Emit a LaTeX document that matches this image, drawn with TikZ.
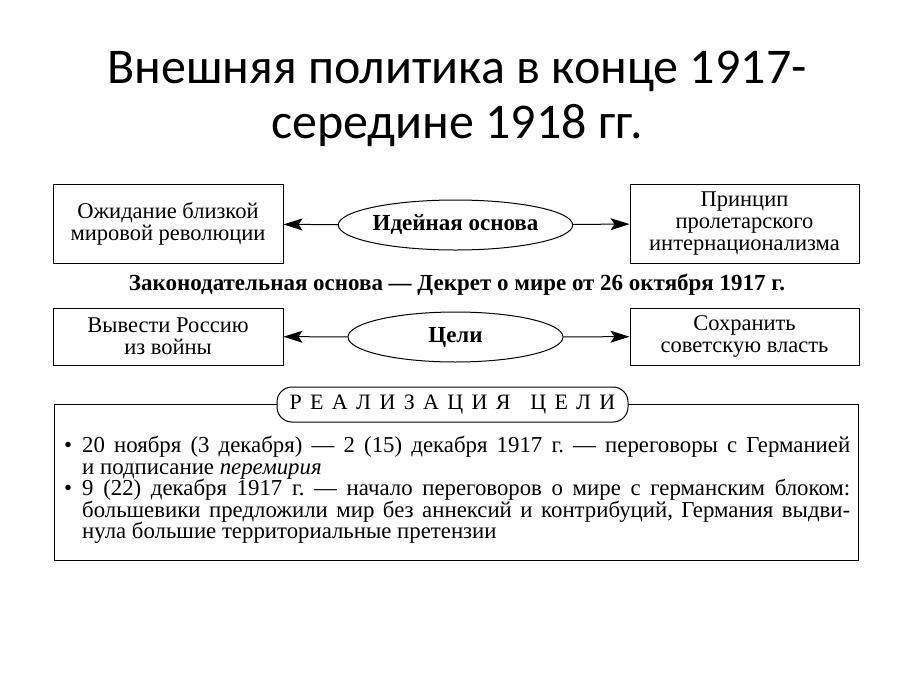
\documentclass[tikz,border=0pt]{standalone}
\usepackage{fontspec}
\setmainfont{Liberation Serif}
\newfontfamily\titlefont{Carlito}
\usetikzlibrary{positioning,shapes.geometric,arrows.meta}
\newcommand{\dotmark}{\llap{•\hspace{10pt}}}
\tikzset{
  box/.style={
    draw, line width=1pt, minimum width=230pt, align=center,
    inner sep=2pt, font=\fontsize{22.5}{22}\selectfont
  },
  oval/.style={
    draw, ellipse, line width=1pt, minimum width=215pt,
    minimum height=50pt, inner sep=0pt,
    font=\bfseries\fontsize{23}{22}\selectfont
  },
  link/.style={
    line width=1pt, -{Stealth[length=19pt,width=12pt,inset=4pt]}
  }
}

\begin{document}
\begin{tikzpicture}[x=1pt,y=-1pt]
    \useasboundingbox (0,0) rectangle (914,686);
    \node [align=center, font=\titlefont\fontsize{50}{55}\selectfont]
      (Title) at (457,99) {Внешняя политика в конце 1917-\\середине 1918 гг.};
    % idea row
    \node [oval] (Idea) at (455.5,225) {Идейная основа};
    \node [box, minimum height=79pt] (Wait) at (168,224) {Ожидание близкой\\мировой революции};
    \node [box, minimum height=79pt, minimum width=229pt] (Intl) at (744.5,223.5) {Принцип\\пролетарского\\интернационализма};
    \draw [link] (Idea) to (Wait);
    \draw [link] (Idea) to (Intl);
    \node [font=\bfseries\fontsize{23}{22}\selectfont] (Law) at (457,285)
      {Законодательная основа — Декрет о мире от 26 октября 1917 г.};
    % goals row
    \node [oval] (Goals) at (455.5,337) {Цели};
    \node [box, minimum height=57pt] (Exit) at (168,336.5) {Вывести Россию\\из войны};
    \node [box, minimum height=57pt, minimum width=229pt] (Keep) at (744.5,336.5) {Сохранить\\советскую власть};
    \draw [link] (Goals) to (Exit);
    \draw [link] (Goals) to (Keep);
    % realization
    \draw [line width=1pt] (54,404) rectangle (858,560);
    \node [draw, line width=1pt, fill=white, rounded corners=15pt,
      minimum width=351pt, minimum height=35pt,
      font=\fontsize{22}{22}\selectfont\addfontfeature{LetterSpace=38}]
      (Done) at (452.5,404.5) {РЕАЛИЗАЦИЯ\hspace{6pt} ЦЕЛИ};
    \node [anchor=north west, inner sep=0pt, text width=768pt, align=justify,
      font=\fontsize{22.8}{21.6}\selectfont] (Facts) at (82,436)
      {\hyphenpenalty=10000\tolerance=10000\frenchspacing
       \dotmark 20 ноября (3 декабря) — 2 (15) декабря 1917 г. — переговоры с Германией\linebreak
       и подписание \textit{перемирия}\\
       \dotmark 9 (22) декабря 1917 г. — начало переговоров о мире с германским блоком:\linebreak
       большевики предложили мир без аннексий и контрибуций, Германия выдви-\linebreak
       нула большие территориальные претензии};
\end{tikzpicture}
\end{document}
